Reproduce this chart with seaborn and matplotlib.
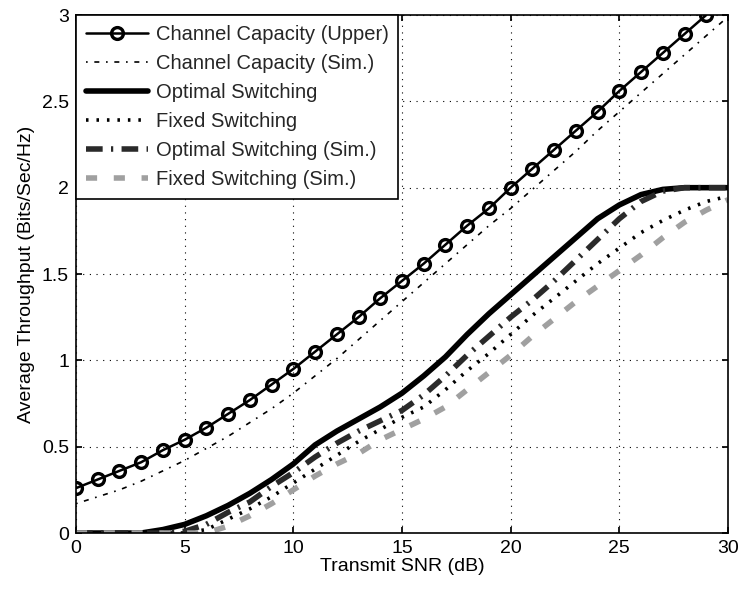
import numpy as np
import pandas as pd
import matplotlib
matplotlib.use("Agg")
import matplotlib.pyplot as plt
import seaborn as sns

snr = list(range(0, 31))
cap_upper = [0.26, 0.31, 0.36, 0.41, 0.48, 0.54, 0.61, 0.69, 0.77, 0.86, 0.95,
             1.05, 1.15, 1.25, 1.36, 1.46, 1.56, 1.67, 1.78, 1.88, 2.00,
             2.11, 2.22, 2.33, 2.44, 2.56, 2.67, 2.78, 2.89, 3.00]
cap_sim = [0.17, 0.21, 0.25, 0.30, 0.36, 0.42, 0.49, 0.56, 0.64, 0.72, 0.81,
           0.91, 1.01, 1.12, 1.23, 1.34, 1.45, 1.56, 1.67, 1.78, 1.88,
           1.99, 2.10, 2.21, 2.33, 2.44, 2.55, 2.66, 2.77, 2.88, 2.99]
optimal = [0, 0, 0, 0.0, 0.02, 0.05, 0.10, 0.16, 0.23, 0.31, 0.40,
           0.51, 0.59, 0.66, 0.73, 0.81, 0.91, 1.02, 1.15, 1.27, 1.38,
           1.49, 1.60, 1.71, 1.82, 1.90, 1.96, 1.99, 2.0, 2.0, 2.0]
fixed = [0, 0, 0, 0, 0, 0, 0.02, 0.08, 0.14, 0.21, 0.29,
         0.37, 0.45, 0.53, 0.60, 0.67, 0.73, 0.83, 0.94, 1.04, 1.15,
         1.26, 1.36, 1.46, 1.56, 1.65, 1.74, 1.81, 1.87, 1.92, 1.95]
optimal_sim = [0, 0, 0, 0, 0, 0.01, 0.05, 0.12, 0.18, 0.27, 0.35,
               0.44, 0.52, 0.59, 0.65, 0.71, 0.80, 0.91, 1.03, 1.14, 1.25,
               1.35, 1.46, 1.58, 1.70, 1.82, 1.92, 1.98, 2.0, 2.0, 2.0]
fixed_sim = [0, 0, 0, 0, 0, 0, 0, 0.04, 0.10, 0.17, 0.25,
             0.33, 0.40, 0.46, 0.54, 0.60, 0.66, 0.73, 0.83, 0.93, 1.03,
             1.14, 1.24, 1.34, 1.43, 1.52, 1.61, 1.71, 1.80, 1.87, 1.93]

labels = ["Channel Capacity (Upper)", "Channel Capacity (Sim.)", "Optimal Switching",
          "Fixed Switching", "Optimal Switching (Sim.)", "Fixed Switching (Sim.)"]
xticks = [0, 5, 10, 15, 20, 25, 30]
yticks = [0, 0.5, 1, 1.5, 2, 2.5, 3]
ytick_labels = ["0", "0.5", "1", "1.5", "2", "2.5", "3"]

sns.set_theme(style="white")
plt.rcParams['font.family'] = ['Liberation Sans', 'DejaVu Sans']

fig = plt.figure(figsize=(7.42, 5.91), dpi=100)
ax = fig.add_axes([0.1024, 0.0981, 0.8787, 0.8765])

sns.lineplot(x=snr[:len(cap_upper)], y=cap_upper, ax=ax, color="black", lw=1.8,
             marker="o", markersize=8.5, markerfacecolor="none", markeredgecolor="black",
             markeredgewidth=2.4, label=labels[0])
sns.lineplot(x=snr, y=cap_sim, ax=ax, color="black", lw=1.2,
             linestyle=(0, (1, 4, 3, 4)), label=labels[1])
sns.lineplot(x=snr, y=optimal, ax=ax, color="black", lw=4, label=labels[2])
sns.lineplot(x=snr, y=fixed, ax=ax, color="black", lw=2.6,
             linestyle=(0, (0.7, 2.2)), label=labels[3])
sns.lineplot(x=snr, y=optimal_sim, ax=ax, color="#2a2a2a", lw=4,
             linestyle=(0, (3, 1.5, 0.4, 1.5)), label=labels[4])
sns.lineplot(x=snr, y=fixed_sim, ax=ax, color="#a0a0a0", lw=4,
             linestyle=(0, (2, 3)), label=labels[5])

ax.set_xlim(0, 30)
ax.set_ylim(0, 3)
ax.set_xticks(xticks)
ax.set_xticklabels([str(t) for t in xticks])
ax.set_yticks(yticks)
ax.set_yticklabels(ytick_labels)
ax.tick_params(axis="both", labelsize=14, length=4, direction="in", colors="black",
               top=True, right=True, bottom=True, left=True, pad=5)
ax.grid(True, color="black", linestyle=(0, (1, 5)), linewidth=0.8)
for s in ax.spines.values():
    s.set_color("black")
    s.set_linewidth(1.2)
ax.set_xlabel("Transmit SNR (dB)", fontsize=14, color="black", labelpad=1)
ax.set_ylabel("Average Throughput (Bits/Sec/Hz)", fontsize=14, color="black", labelpad=5)

leg = ax.legend(loc="upper left", fontsize=14.5, handlelength=3.1, handletextpad=0.35,
                borderaxespad=0.0, frameon=True, fancybox=False, borderpad=0.5,
                labelspacing=0.5, edgecolor="black", framealpha=1)
leg.get_frame().set_linewidth(1.2)

fig.savefig("out.png", dpi=100)
